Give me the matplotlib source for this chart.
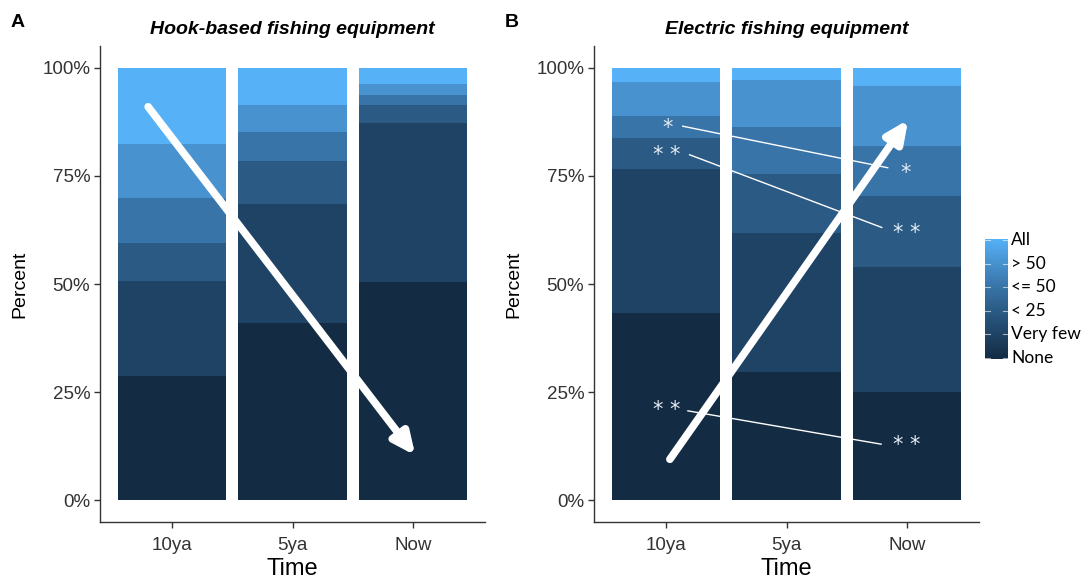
import numpy as np
import matplotlib.pyplot as plt
from matplotlib.colors import LinearSegmentedColormap

plt.rcParams['font.family'] = ['Liberation Sans', 'DejaVu Sans']

times = ["10ya", "5ya", "Now"]
levels = ["None", "Very few", "< 25", "<= 50", "> 50", "All"]

# percent of respondents per answer level (bottom to top), one value per period
hook_none = [28.8, 40.9, 50.6]
hook_very_few = [22.0, 27.7, 36.6]
hook_lt25 = [8.7, 9.9, 4.1]
hook_le50 = [10.3, 6.7, 2.4]
hook_gt50 = [12.7, 6.3, 2.5]
hook_all = [17.5, 8.5, 3.8]

elec_none = [43.4, 29.7, 25.1]
elec_very_few = [33.1, 32.1, 28.9]
elec_lt25 = [7.2, 13.7, 16.3]
elec_le50 = [5.2, 10.8, 11.6]
elec_gt50 = [7.9, 10.8, 13.8]
elec_all = [3.2, 2.9, 4.3]

hook = [hook_none, hook_very_few, hook_lt25, hook_le50, hook_gt50, hook_all]
elec = [elec_none, elec_very_few, elec_lt25, elec_le50, elec_gt50, elec_all]

shades = ['#132B43', '#1F4364', '#2B5B85', '#3874A8', '#4792CF', '#56B1F7']


def stacked_panel(ax, data, title, letter):
    x = np.arange(1, len(times) + 1)
    bottom = np.zeros(len(times))
    for vals, col in zip(data, shades):
        ax.bar(x, vals, bottom=bottom, width=0.9, color=col, linewidth=0)
        bottom += np.array(vals)

    ax.set_xlim(0.4, 3.6)
    ax.set_ylim(-5, 105)
    ax.set_xticks(x)
    ax.set_xticklabels(times, fontsize=13.5, color='#333333')
    ax.set_yticks([0, 25, 50, 75, 100])
    ax.set_yticklabels(["0%", "25%", "50%", "75%", "100%"], fontsize=13.5,
                       color='#333333')
    ax.set_xlabel("Time", fontsize=17, labelpad=3)
    ax.set_ylabel("Percent", fontsize=14, labelpad=10)
    for side in ["top", "right"]:
        ax.spines[side].set_visible(False)
    for side in ["left", "bottom"]:
        ax.spines[side].set_color('#333333')
        ax.spines[side].set_linewidth(1.0)
    ax.tick_params(axis='x', length=4, width=1, color='#333333', pad=7)
    ax.tick_params(axis='y', length=4, width=1, color='#333333', pad=3)
    ax.set_title(title, fontsize=14, fontweight='bold', fontstyle='italic',
                 pad=9)
    ax.text(-0.213, 1.05, letter, transform=ax.transAxes, fontsize=14,
            fontweight='bold', ha='center', va='center')


def white_arrow(ax, start, end):
    ax.annotate("", xy=end, xytext=start,
                arrowprops=dict(arrowstyle="-|>,head_length=1.3,head_width=0.6",
                                color='white', lw=5.5, shrinkA=0, shrinkB=0))


fig = plt.figure(figsize=(10.88, 5.81), dpi=100)
ax_a = fig.add_axes([0.0919, 0.1015, 0.354, 0.819])
ax_b = fig.add_axes([0.546, 0.1015, 0.354, 0.819])

stacked_panel(ax_a, hook, "Hook-based fishing equipment", "A")
stacked_panel(ax_b, elec, "Electric fishing equipment", "B")

white_arrow(ax_a, (0.80, 91.0), (3.02, 10.4))
white_arrow(ax_b, (1.03, 9.5), (3.01, 88.0))

# significance markers linking 10ya and Now levels
star_col = '#E4ECF3'
marks = [("*", (1.007, 86.1), (1.137, 86.5), (2.84, 76.9), (2.985, 75.6)),
         ("* *", (1.007, 79.9), (1.194, 79.9), (2.79, 63.1), (3.0, 61.9)),
         ("* *", (1.007, 20.9), (1.18, 20.7), (2.785, 13.0), (3.0, 12.7))]
for label, left, l0, l1, right in marks:
    ax_b.text(*left, label, color=star_col, fontsize=15, ha='center',
              va='center', family='DejaVu Sans')
    ax_b.text(*right, label, color=star_col, fontsize=15, ha='center',
              va='center', family='DejaVu Sans')
    ax_b.plot([l0[0], l1[0]], [l0[1], l1[1]], color='white', lw=1.0)

# gradient legend for the answer levels
cmap = LinearSegmentedColormap.from_list("fill", shades)
cax = fig.add_axes([985 / 1088, 1 - 359 / 581, 23 / 1088, 120 / 581])
grad = np.linspace(0, 1, 256).reshape(-1, 1)
cax.imshow(grad, aspect='auto', cmap=cmap, origin='lower',
           extent=[0, 1, 0, 1])
cax.set_xlim(0, 1)
cax.set_ylim(0, 1)
cax.set_xticks([])
cax.set_yticks([])
for s in cax.spines.values():
    s.set_visible(False)
tick_y = np.linspace(0.01, 0.99, len(levels))
for ty, lab in zip(tick_y, levels):
    cax.plot([0, 0.2], [ty, ty], color='white', lw=0.8, alpha=0.6)
    cax.plot([0.8, 1.0], [ty, ty], color='white', lw=0.8, alpha=0.6)
    cax.text(1.15, ty, lab, transform=cax.transAxes, fontsize=12.5,
             va='center', ha='left', family=['Lato', 'DejaVu Sans'])

plt.savefig("out.png", dpi=100)
